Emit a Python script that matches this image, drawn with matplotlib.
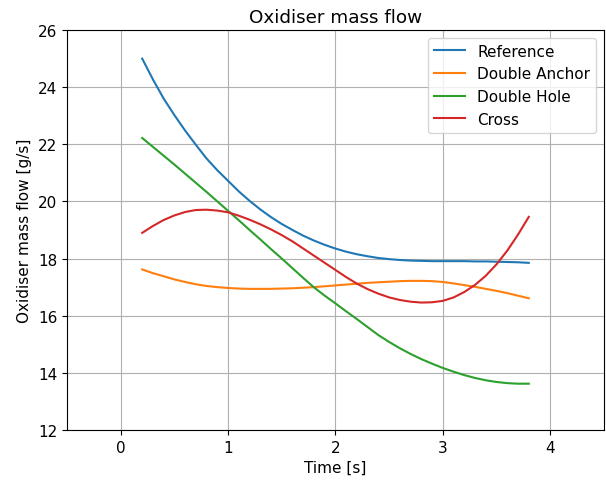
import numpy as np
import matplotlib.pyplot as plt

plt.rcParams['font.size'] = 11

# time samples [s]
time = [0.2, 0.3, 0.4, 0.5, 0.6, 0.7, 0.8, 0.9, 1.0, 1.1,
        1.2, 1.3, 1.4, 1.5, 1.6, 1.7, 1.8, 1.9, 2.0, 2.1,
        2.2, 2.3, 2.4, 2.5, 2.6, 2.7, 2.8, 2.9, 3.0, 3.1,
        3.2, 3.3, 3.4, 3.5, 3.6, 3.7, 3.8]

# oxidiser mass flow [g/s]
reference = [25.0, 24.27, 23.6, 23.02, 22.48, 21.98, 21.5, 21.09, 20.72, 20.35,
             20.02, 19.72, 19.45, 19.21, 19.0, 18.8, 18.63, 18.48, 18.35, 18.24,
             18.15, 18.08, 18.02, 17.98, 17.95, 17.93, 17.92, 17.91, 17.91, 17.91,
             17.91, 17.9, 17.9, 17.89, 17.88, 17.87, 17.85]
double_anchor = [17.62, 17.49, 17.38, 17.27, 17.18, 17.1, 17.04, 17.0, 16.97, 16.95,
                 16.94, 16.94, 16.94, 16.95, 16.96, 16.98, 17.0, 17.03, 17.06, 17.09,
                 17.12, 17.15, 17.17, 17.19, 17.21, 17.22, 17.22, 17.21, 17.18, 17.13,
                 17.07, 17.01, 16.94, 16.87, 16.79, 16.7, 16.61]
double_hole = [22.22, 21.91, 21.6, 21.29, 20.97, 20.65, 20.33, 20.0, 19.67, 19.34,
               19.0, 18.67, 18.33, 18.0, 17.66, 17.32, 16.99, 16.7, 16.43, 16.15,
               15.88, 15.6, 15.32, 15.08, 14.86, 14.66, 14.48, 14.32, 14.17, 14.04,
               13.92, 13.82, 13.74, 13.68, 13.64, 13.62, 13.62]
cross = [18.9, 19.14, 19.35, 19.51, 19.63, 19.7, 19.71, 19.68, 19.62, 19.5,
         19.36, 19.2, 19.02, 18.82, 18.6, 18.35, 18.1, 17.85, 17.6, 17.35,
         17.12, 16.93, 16.77, 16.64, 16.55, 16.49, 16.46, 16.47, 16.52, 16.64,
         16.83, 17.08, 17.4, 17.8, 18.28, 18.84, 19.46]

labels = ['Reference', 'Double Anchor', 'Double Hole', 'Cross']

fig = plt.figure(figsize=(6.06, 4.81), dpi=100)
ax = fig.add_axes([0.1106, 0.104, 0.886, 0.8315])

for series, lab in zip([reference, double_anchor, double_hole, cross], labels):
    ax.plot(time, series, label=lab)

ax.set_xlim(-0.5, 4.5)
ax.set_ylim(12, 26)
ax.set_xticks([0, 1, 2, 3, 4])
ax.set_title('Oxidiser mass flow')
ax.set_xlabel('Time [s]')
ax.set_ylabel('Oxidiser mass flow [g/s]')
ax.grid(True)
ax.legend(loc='upper right')

fig.savefig('out.png', dpi=100)
